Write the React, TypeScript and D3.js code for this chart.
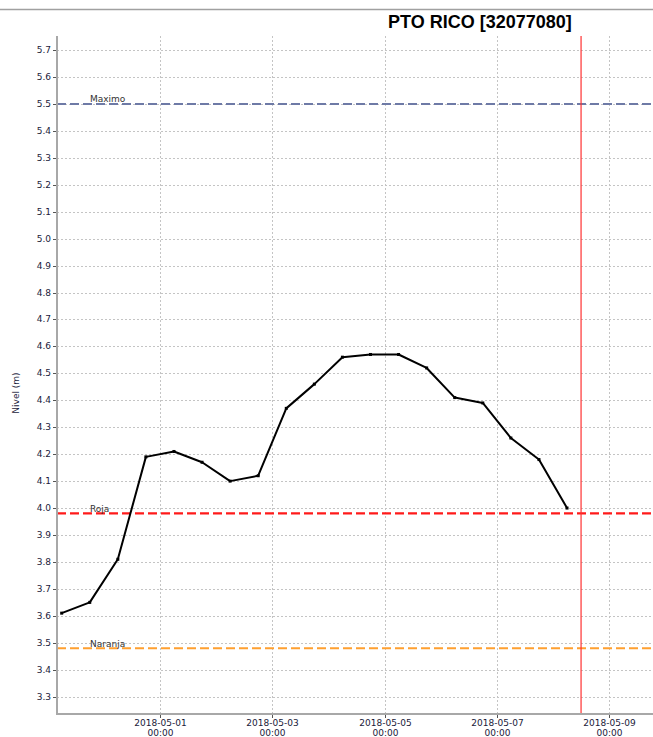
import React from "react";
import * as d3 from "d3";

const W = 653;
const H = 737;

const title = "PTO RICO [32077080]";
const yLabel = "Nivel (m)";

// Observations every 12h starting 2018-04-29 06:00
const times = [
  "2018-04-29T06:00", "2018-04-29T18:00", "2018-04-30T06:00", "2018-04-30T18:00",
  "2018-05-01T06:00", "2018-05-01T18:00", "2018-05-02T06:00", "2018-05-02T18:00",
  "2018-05-03T06:00", "2018-05-03T18:00", "2018-05-04T06:00", "2018-05-04T18:00",
  "2018-05-05T06:00", "2018-05-05T18:00", "2018-05-06T06:00", "2018-05-06T18:00",
  "2018-05-07T06:00", "2018-05-07T18:00", "2018-05-08T06:00",
];
const levels = [
  3.61, 3.65, 3.81, 4.19, 4.21, 4.17, 4.10, 4.12, 4.37, 4.46,
  4.56, 4.57, 4.57, 4.52, 4.41, 4.39, 4.26, 4.18, 4.00,
];

const thresholdNames = ["Maximo", "Roja", "Naranja"];
const thresholdValues = [5.5, 3.98, 3.48];
const thresholdColors = ["#6e7aa6", "#ff1a1a", "#ffa030"];
const thresholdWidths = [2, 2.2, 2];

const nowTime = "2018-05-08T12:00";

const yTicks = [3.3, 3.4, 3.5, 3.6, 3.7, 3.8, 3.9, 4.0, 4.1, 4.2, 4.3, 4.4, 4.5, 4.6, 4.7, 4.8, 4.9, 5.0, 5.1, 5.2, 5.3, 5.4, 5.5, 5.6, 5.7];
const xTickDates = ["2018-05-01T00:00", "2018-05-03T00:00", "2018-05-05T00:00", "2018-05-07T00:00", "2018-05-09T00:00"];

const parse = d3.timeParse("%Y-%m-%dT%H:%M");

const plotLeft = 57;
const plotTop = 36;
const plotBottom = 714;
const plotRight = 653;

export default function App() {
  const x = d3
    .scaleTime()
    .domain([parse("2018-04-29T04:00")!, parse("2018-05-09T18:45")!])
    .range([plotLeft, plotRight]);
  const y = d3.scaleLinear().domain([3.2357, 5.752]).range([plotBottom, plotTop]);

  const pts = times.map((t, i) => ({ t: parse(t)!, v: levels[i] }));
  const line = d3
    .line<{ t: Date; v: number }>()
    .x((d) => x(d.t))
    .y((d) => y(d.v))
    .curve(d3.curveLinear);

  const font = "Tahoma, 'DejaVu Sans', sans-serif";
  const fmtDate = d3.timeFormat("%Y-%m-%d");
  const fmtTime = d3.timeFormat("%H:%M");
  const nowX = x(parse(nowTime)!);

  return (
    <div style={{ position: "absolute", left: 0, top: 0 }}>
      <svg width={W} height={H} style={{ display: "block", background: "#fff" }}>
        <defs>
          <clipPath id="plotclip">
            <rect x={plotLeft} y={plotTop} width={plotRight - plotLeft} height={plotBottom - plotTop} />
          </clipPath>
        </defs>
        <line x1={0} x2={W} y1={9.5} y2={9.5} stroke="#a0a0a0" strokeWidth={1.5} />
        <text
          x={480}
          y={28}
          textAnchor="middle"
          fontFamily="'Liberation Sans', Arial, sans-serif"
          fontWeight="bold"
          fontSize={18}
          fill="#000"
        >
          {title}
        </text>

        {/* grid */}
        {yTicks.map((v) => (
          <line
            key={"gy" + v}
            x1={plotLeft}
            x2={plotRight}
            y1={Math.round(y(v)) + 0.5}
            y2={Math.round(y(v)) + 0.5}
            stroke="#c4c4c4"
            strokeWidth={1}
            strokeDasharray="2,2"
          />
        ))}
        {xTickDates.map((d) => {
          const xx = Math.round(x(parse(d)!)) + 0.5;
          return (
            <line key={"gx" + d} x1={xx} x2={xx} y1={plotTop} y2={plotBottom} stroke="#c4c4c4" strokeWidth={1} strokeDasharray="2,2" />
          );
        })}

        {/* thresholds */}
        {thresholdValues.map((v, i) => (
          <g key={"th" + i}>
            <line
              x1={plotLeft}
              x2={plotRight}
              y1={y(v)}
              y2={y(v)}
              stroke={thresholdColors[i]}
              strokeWidth={thresholdWidths[i]}
              strokeDasharray="9,4"
            />
            <text x={90} y={y(v) - 1.5} fontFamily={font} fontSize={9} fill="#333">
              {thresholdNames[i]}
            </text>
          </g>
        ))}

        {/* now line */}
        <line x1={nowX} x2={nowX} y1={plotTop} y2={plotBottom} stroke="#ff3030" strokeWidth={1.2} />

        {/* data */}
        <g clipPath="url(#plotclip)">
          <path d={line(pts) || ""} fill="none" stroke="#000" strokeWidth={2} strokeLinejoin="round" />
          {pts.map((p, i) => (
            <rect key={"m" + i} x={x(p.t) - 1.5} y={y(p.v) - 1.5} width={3} height={3} fill="#000" />
          ))}
        </g>

        {/* axes */}
        <line x1={plotLeft} x2={plotLeft} y1={plotTop} y2={plotBottom + 1} stroke="#a8a8a8" strokeWidth={2} />
        <line x1={plotLeft - 1} x2={plotRight} y1={plotBottom} y2={plotBottom} stroke="#a8a8a8" strokeWidth={2} />

        {yTicks.map((v) => (
          <g key={"ty" + v}>
            <line x1={plotLeft - 4} x2={plotLeft - 1} y1={Math.round(y(v)) + 0.5} y2={Math.round(y(v)) + 0.5} stroke="#555" strokeWidth={1} />
            <text x={plotLeft - 6} y={y(v) + 3} textAnchor="end" fontFamily={font} fontSize={9} fill="#1a1a3a">
              {d3.format(".1f")(v)}
            </text>
          </g>
        ))}
        {xTickDates.map((d) => {
          const dt = parse(d)!;
          const xx = Math.round(x(dt)) + 0.5;
          return (
            <g key={"tx" + d}>
              <line x1={xx} x2={xx} y1={plotBottom + 1} y2={plotBottom + 4} stroke="#555" strokeWidth={1} />
              <text x={xx} y={plotBottom + 12} textAnchor="middle" fontFamily={font} fontSize={9} fill="#1a1a3a">
                {fmtDate(dt)}
              </text>
              <text x={xx} y={plotBottom + 22} textAnchor="middle" fontFamily={font} fontSize={9} fill="#1a1a3a">
                {fmtTime(dt)}
              </text>
            </g>
          );
        })}

        <text
          transform={`translate(19,${(plotTop + plotBottom) / 2 + 18}) rotate(-90)`}
          textAnchor="middle"
          fontFamily={font}
          fontSize={9}
          fill="#1a1a3a"
        >
          {yLabel}
        </text>
      </svg>
    </div>
  );
}
